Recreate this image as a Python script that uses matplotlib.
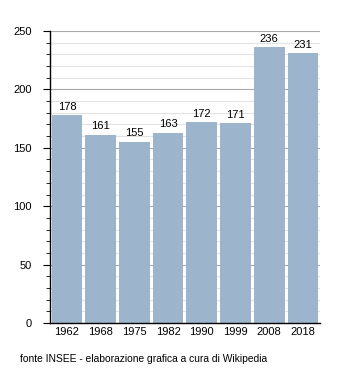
import matplotlib
matplotlib.use("Agg")
import matplotlib.pyplot as plt
from matplotlib.ticker import MultipleLocator

years = ["1962", "1968", "1975", "1982", "1990", "1999", "2008", "2018"]
population = [178, 161, 155, 163, 172, 171, 236, 231]

plt.rcParams['font.family'] = ['Liberation Sans', 'DejaVu Sans']

fig = plt.figure(figsize=(3.5, 3.73), dpi=100)
ax = fig.add_axes([0.143, 0.134, 0.771, 0.783])

x = list(range(len(years)))
bars = ax.bar(x, population, width=0.91, color='#9cb4cc', zorder=3)

for xi, v in zip(x, population):
    ax.text(xi, v + 3, str(v), ha='center', va='bottom', fontsize=8, zorder=4)

ax.set_xlim(-0.5, len(years) - 0.5)
ax.set_ylim(0, 250)
ax.set_xticks(x)
ax.set_xticklabels(years, fontsize=8)
ax.tick_params(axis='x', length=0, pad=3)

ax.yaxis.set_major_locator(MultipleLocator(50))
ax.yaxis.set_minor_locator(MultipleLocator(10))
ax.tick_params(axis='y', which='major', length=5, labelsize=8, pad=8)
ax.tick_params(axis='y', which='minor', length=3)

ax.grid(axis='y', which='major', color='#a8a8a8', linewidth=0.8, zorder=0)
ax.grid(axis='y', which='minor', color='#e2e2e2', linewidth=0.8, zorder=0)

ax.spines['top'].set_visible(False)
ax.spines['right'].set_visible(False)
ax.spines['left'].set_linewidth(1.0)
ax.spines['bottom'].set_linewidth(1.0)
ax.spines['bottom'].set_zorder(5)

fig.text(0.058, 0.03, "fonte INSEE - elaborazione grafica a cura di Wikipedia", fontsize=7.4)

fig.savefig("out.png", dpi=100)
